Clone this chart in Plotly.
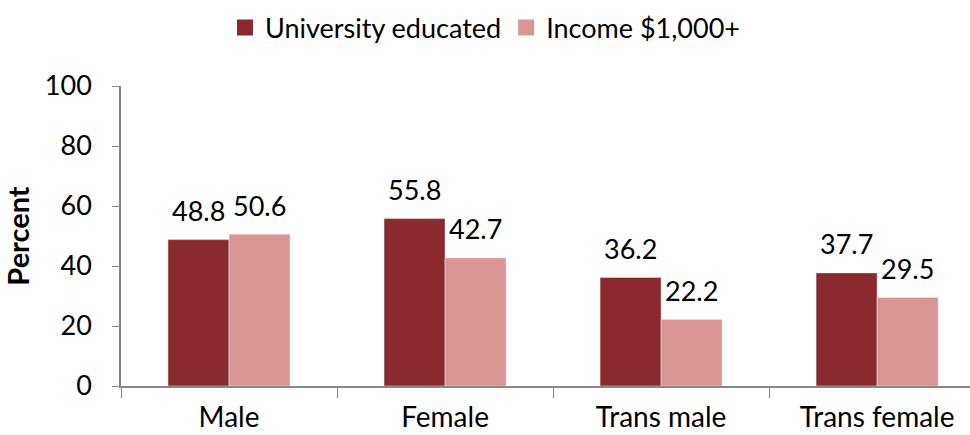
import plotly.graph_objects as go

categories = ["Male", "Female", "Trans male", "Trans female"]
university = [48.8, 55.8, 36.2, 37.7]
income = [50.6, 42.7, 22.2, 29.5]
series_names = ["University educated", "Income $1,000+"]
colors = ["#8B2A2E", "#DA9695"]
yticks = [0, 20, 40, 60, 80, 100]

FONT = "Lato"
FS = 27
fig = go.Figure()
for i, (name, vals, col) in enumerate(zip(series_names, [university, income], colors)):
    fig.add_trace(go.Bar(
        x=categories, y=vals, name=name, marker_color=col, showlegend=False,
    ))
    # legend entry with larger square symbol
    fig.add_trace(go.Scatter(
        x=[None], y=[None], mode="markers", name=name,
        marker=dict(symbol="square", size=16, color=col),
    ))
    for c, v in zip(categories, vals):
        fig.add_annotation(
            x=c, y=v, text=f"{v:.1f}", showarrow=False,
            xshift=(i - 0.5) * 61, yshift=29, yanchor="middle",
            font=dict(family=FONT, size=FS, color="#000"),
        )

fig.update_layout(
    width=970, height=435,
    margin=dict(l=121, r=0, t=86, b=49, autoexpand=False),
    paper_bgcolor="white", plot_bgcolor="white",
    barmode="group", bargap=0.435, bargroupgap=0,
    font=dict(family=FONT, size=FS, color="#000"),
    showlegend=True,
    legend=dict(orientation="h", xref="container", yref="container",
                x=0.500, y=0.936, xanchor="center", yanchor="middle",
                font=dict(family=FONT, size=FS), itemsizing="trace",
                traceorder="normal"),
    xaxis=dict(range=[-0.5, 3.43], showline=True, linecolor="#888", linewidth=1.5,
               ticks="outside", ticklen=10, tickcolor="#888", tickson="boundaries",
               tickfont=dict(family=FONT, size=28), showgrid=False,
               automargin=False, ticklabelstandoff=6),
    yaxis=dict(range=[0, 100], tickvals=yticks, showline=True, linecolor="#888",
               linewidth=1.5, ticks="outside", ticklen=7, tickcolor="#888",
               tickfont=dict(family=FONT, size=FS), showgrid=False, zeroline=False,
               automargin=False, ticklabelstandoff=15,
               title=dict(text="<b>Percent</b>", font=dict(family=FONT, size=29), standoff=9)),
)
fig.write_html("out.html", config={"displayModeBar": False},
               post_script="document.body.style.margin='0';document.body.style.padding='0';")
